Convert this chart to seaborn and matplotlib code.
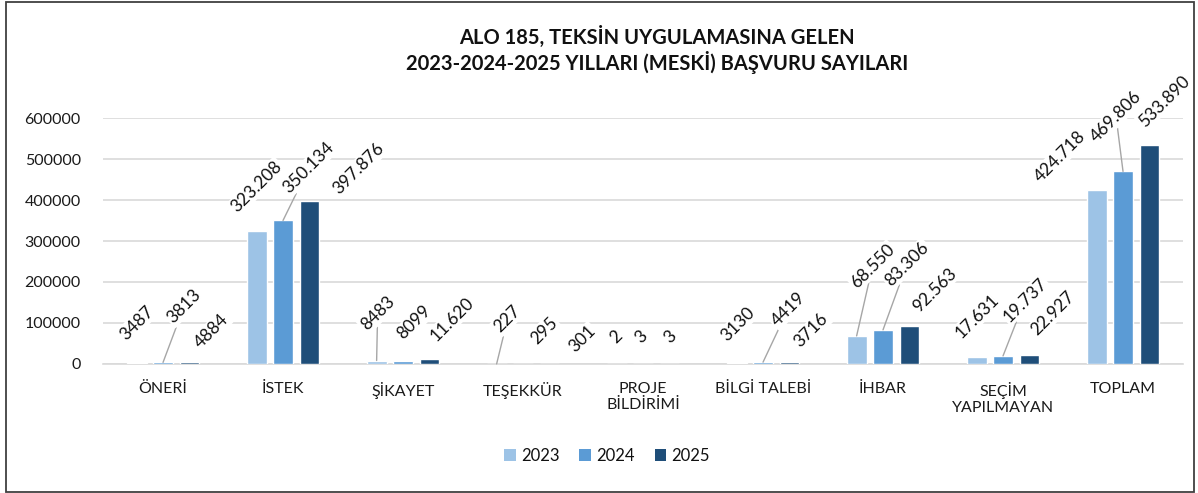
import pandas as pd
import matplotlib.pyplot as plt
import seaborn as sns
from matplotlib.patches import Rectangle

# veriler
kategoriler = ['ÖNERİ', 'İSTEK', 'ŞİKAYET', 'TEŞEKKÜR', 'PROJE\nBİLDİRİMİ',
               'BİLGİ TALEBİ', 'İHBAR', 'SEÇİM\nYAPILMAYAN', 'TOPLAM']
yillar = ['2023', '2024', '2025']
deger_2023 = [3487, 323208, 8483, 227, 2, 3130, 68550, 17631, 424718]
deger_2024 = [3813, 350134, 8099, 295, 3, 4419, 83306, 19737, 469806]
deger_2025 = [4884, 397876, 11620, 301, 3, 3716, 92563, 22927, 533890]
renkler = ['#9dc3e6', '#5b9bd5', '#1f4e79']

# etiket yerleşimi (piksel kaydırma) ve kılavuz çizgileri
etiket_kayma = {
    '2023': [(0, 39), (0, 45), (1, 47), (11, 45), (0, 27), (1, 38), (16, 70), (1, 41), (-37, 33)],
    '2024': [(21, 56), (26, 53), (11, 38), (21, 33), (-2, 27), (25, 53), (24, 66), (22, 56), (-7, 55)],
    '2025': [(22, 31), (49, 32), (23, 40), (33, 25), (1, 27), (22, 32), (25, 36), (23, 41), (15, 44)],
}
kilavuz = {
    '2023': [False, False, True, True, False, False, True, False, False],
    '2024': [True, True, False, False, False, True, True, True, True],
    '2025': [False] * 9,
}

df = pd.DataFrame({
    'kategori': kategoriler * 3,
    'yil': [y for y in yillar for _ in kategoriler],
    'deger': deger_2023 + deger_2024 + deger_2025,
})


def bicim(v):
    if v >= 10000:
        return f'{v:,}'.replace(',', '.')
    return str(v)


sns.set_theme(style='white')
plt.rcParams['font.family'] = ['Lato', 'DejaVu Sans']

fig = plt.figure(figsize=(11.98, 4.93), dpi=100)
ax = fig.add_axes([0.086, 0.2617, 0.9015, 0.4989])

sns.barplot(data=df, x='kategori', y='deger', hue='yil', palette=renkler,
            saturation=1, width=0.66, gap=0.25, ax=ax, zorder=3, legend=False)

ax.set_ylim(0, 600000)
ax.set_yticks(range(0, 600001, 100000))
ax.yaxis.grid(True, color='#d9d9d9', linewidth=1.2, zorder=0)
ax.set_axisbelow(True)
for s in ['top', 'right', 'left']:
    ax.spines[s].set_visible(False)
ax.spines['bottom'].set_color('#d9d9d9')
ax.spines['bottom'].set_linewidth(1.2)
ax.tick_params(axis='both', length=0, labelsize=11.5, colors='#1a1a1a')
ax.tick_params(axis='x', pad=13)
ax.tick_params(axis='y', pad=16)
ax.set_xlabel('')
ax.set_ylabel('')

# veri etiketleri
for j, yil in enumerate(yillar):
    for i, bar in enumerate(ax.containers[j]):
        x = bar.get_x() + bar.get_width() / 2
        h = bar.get_height()
        dx, dy = etiket_kayma[yil][i]
        ok = dict(arrowstyle='-', color='#a6a6a6', lw=1, shrinkA=0, shrinkB=0) if kilavuz[yil][i] else None
        ax.annotate(bicim(int(h)), (x, h), xytext=(dx, dy), textcoords='offset pixels',
                    ha='center', va='center', rotation=45, fontsize=12.5, color='#111111',
                    bbox=dict(fc='white', ec='none', pad=1.0), arrowprops=ok, zorder=5)

# lejant
tutamaclar = [Rectangle((0, 0), 1, 1, fc=r, ec='none') for r in renkler]
fig.legend(tutamaclar, yillar, loc='center', bbox_to_anchor=(607 / 1198, 1 - 456 / 493),
           ncol=3, frameon=False, fontsize=12, handlelength=0.7, handleheight=0.7,
           handletextpad=0.3, columnspacing=1.2, labelcolor='#111111')

fig.text(657 / 1198, 1 - 50 / 493,
         'ALO 185, TEKSİN UYGULAMASINA GELEN\n2023-2024-2025 YILLARI (MESKİ) BAŞVURU SAYILARI',
         ha='center', va='center', fontsize=14.5, fontweight='bold', linespacing=1.2, color='#111111')

# dış çerçeve
fig.patches.append(Rectangle((0.005, 0.003), 0.992, 0.993, transform=fig.transFigure,
                             fill=False, ec='#404040', lw=1.3))

fig.savefig('out.png', dpi=100)
